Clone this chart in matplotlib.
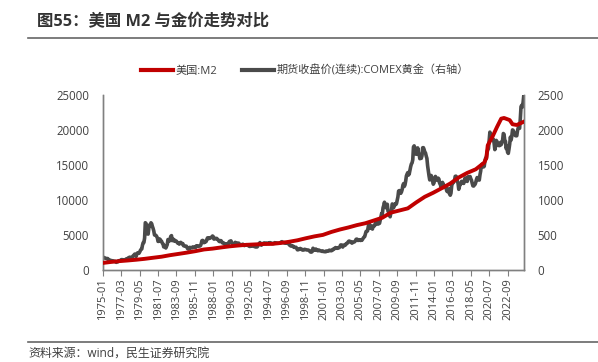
import matplotlib
matplotlib.use("Agg")
import matplotlib.pyplot as plt
from matplotlib.lines import Line2D

plt.rcParams['font.family'] = ['Open Sans', 'Noto Sans CJK SC', 'DejaVu Sans']

# US M2 (billion USD), sparse points by month
m2_dates = ["1975-01", "1975-12", "1976-12", "1977-12", "1978-12", "1979-12", "1980-12",
            "1981-12", "1982-12", "1983-12", "1984-12", "1985-12", "1986-12", "1987-12",
            "1988-12", "1989-12", "1990-12", "1991-12", "1992-12", "1993-12", "1994-12",
            "1995-12", "1996-12", "1997-12", "1998-12", "1999-12", "2000-12", "2001-12",
            "2002-12", "2003-12", "2004-12", "2005-12", "2006-12", "2007-12", "2008-12",
            "2009-12", "2010-12", "2011-12", "2012-12", "2013-12", "2014-12", "2015-12",
            "2016-12", "2017-12", "2018-12", "2019-12", "2020-03", "2020-05", "2020-12",
            "2021-06", "2021-12", "2022-04", "2022-12", "2023-04", "2023-10", "2024-08"]
m2_values = [1016, 1152, 1270, 1366, 1473, 1599, 1755,
             1906, 2124, 2306, 2492, 2699, 2937, 3057,
             3225, 3381, 3500, 3600, 3657, 3715, 3733,
             3860, 4031, 4246, 4538, 4804, 5016, 5437,
             5785, 6077, 6410, 6680, 7071, 7471, 8192,
             8496, 8802, 9660, 10453, 11035, 11684, 12346,
             13213, 13862, 14376, 15327, 16000, 17800, 19100,
             20400, 21600, 21700, 21400, 20800, 20700, 21170]

# COMEX gold (USD/oz), monthly from 1975-01
gold = [
    176, 180, 178, 170, 167, 164, 165, 163, 144, 143, 142, 139,
    132, 132, 133, 128, 126, 126, 118, 110, 115, 117, 131, 134,
    132, 136, 148, 149, 147, 141, 144, 145, 150, 159, 162, 161,
    173, 179, 184, 175, 176, 183, 188, 206, 212, 228, 206, 194,
    227, 245, 242, 239, 257, 279, 295, 301, 355, 392, 392, 456,
    675, 665, 553, 517, 513, 600, 644, 627, 674, 661, 623, 594,
    557, 500, 499, 495, 480, 460, 409, 410, 444, 437, 413, 410,
    384, 374, 330, 350, 334, 315, 339, 364, 435, 422, 414, 444,
    481, 491, 420, 432, 438, 413, 423, 416, 412, 394, 382, 388,
    370, 386, 395, 381, 377, 378, 347, 348, 341, 340, 341, 320,
    303, 299, 304, 324, 316, 317, 317, 330, 323, 325, 325, 322,
    345, 338, 345, 340, 342, 342, 348, 376, 418, 423, 396, 391,
    408, 401, 408, 438, 460, 450, 450, 461, 460, 465, 465, 486,
    477, 442, 444, 452, 451, 451, 437, 431, 413, 406, 420, 419,
    404, 388, 390, 384, 371, 367, 375, 365, 362, 367, 394, 409,
    410, 417, 394, 375, 369, 352, 362, 395, 389, 380, 381, 378,
    384, 364, 363, 358, 357, 367, 368, 356, 349, 358, 359, 361,
    354, 354, 345, 338, 337, 341, 353, 343, 345, 344, 335, 334,
    329, 329, 330, 342, 367, 372, 392, 379, 355, 364, 374, 383,
    387, 382, 384, 378, 381, 385, 385, 380, 391, 389, 384, 380,
    379, 377, 382, 391, 385, 387, 386, 383, 383, 383, 386, 387,
    400, 405, 396, 393, 392, 385, 383, 387, 383, 381, 378, 369,
    355, 346, 352, 344, 344, 341, 324, 324, 323, 325, 306, 289,
    289, 297, 296, 308, 299, 292, 293, 284, 289, 296, 294, 291,
    287, 287, 286, 282, 277, 261, 256, 257, 265, 311, 293, 283,
    284, 300, 286, 280, 275, 286, 282, 275, 273, 270, 266, 272,
    265, 262, 263, 261, 272, 270, 268, 273, 283, 283, 276, 275,
    282, 296, 294, 302, 314, 321, 313, 310, 319, 317, 319, 333,
    357, 359, 340, 328, 355, 356, 351, 360, 378, 379, 389, 407,
    414, 405, 406, 404, 384, 392, 398, 400, 405, 420, 439, 442,
    424, 423, 434, 428, 422, 430, 424, 438, 456, 469, 476, 510,
    549, 555, 557, 610, 676, 596, 633, 632, 598, 585, 627, 629,
    631, 665, 655, 680, 668, 656, 666, 666, 712, 754, 806, 803,
    889, 922, 968, 909, 889, 890, 939, 839, 829, 806, 760, 816,
    858, 943, 925, 890, 928, 946, 934, 949, 996, 1043, 1127, 1134,
    1118, 1095, 1114, 1148, 1205, 1233, 1193, 1215, 1271, 1343, 1370, 1391,
    1356, 1372, 1424, 1474, 1512, 1529, 1573, 1756, 1772, 1665, 1739, 1652,
    1656, 1743, 1675, 1649, 1589, 1596, 1594, 1630, 1745, 1747, 1721, 1684,
    1671, 1627, 1593, 1487, 1414, 1343, 1286, 1347, 1349, 1316, 1275, 1225,
    1244, 1300, 1336, 1299, 1287, 1279, 1311, 1296, 1238, 1222, 1176, 1200,
    1251, 1227, 1179, 1199, 1199, 1181, 1129, 1118, 1125, 1159, 1086, 1068,
    1097, 1200, 1246, 1242, 1260, 1276, 1337, 1340, 1326, 1267, 1238, 1152,
    1192, 1234, 1231, 1266, 1246, 1260, 1236, 1283, 1315, 1280, 1283, 1265,
    1331, 1331, 1325, 1335, 1303, 1282, 1238, 1202, 1198, 1215, 1221, 1250,
    1291, 1320, 1300, 1286, 1284, 1359, 1413, 1500, 1511, 1495, 1471, 1480,
    1560, 1597, 1592, 1683, 1716, 1732, 1846, 1968, 1921, 1900, 1866, 1858,
    1867, 1808, 1718, 1760, 1850, 1834, 1807, 1785, 1775, 1777, 1821, 1790,
    1817, 1856, 1948, 1937, 1849, 1837, 1733, 1765, 1681, 1665, 1726, 1798,
    1898, 1855, 1912, 2000, 1992, 1943, 1951, 1918, 1916, 1916, 1986, 2027,
    2034, 2023, 2159, 2331, 2351, 2326, 2399, 2500,
]

tick_labels = ["1975-01", "1977-03", "1979-05", "1981-07", "1983-09", "1985-11",
               "1988-01", "1990-03", "1992-05", "1994-07", "1996-09", "1998-11",
               "2001-01", "2003-03", "2005-05", "2007-07", "2009-09", "2011-11",
               "2014-01", "2016-03", "2018-05", "2020-07", "2022-09"]


def month_idx(s):
    y, m = s.split("-")
    return (int(y) - 1975) * 12 + int(m) - 1


RED = "#C00000"
GRAY = "#4A4A4A"
TXT = "#404040"
SPINE = "#808080"

fig = plt.figure(figsize=(5.98, 3.62), dpi=100)
ax = fig.add_axes([0.172, 0.254, 0.704, 0.484])
ax2 = ax.twinx()

ax.plot([month_idx(d) for d in m2_dates], m2_values, color=RED, lw=2.8, zorder=3)
ax2.plot(range(len(gold)), gold, color=GRAY, lw=2.6)
ax.set_zorder(ax2.get_zorder() + 1)
ax.patch.set_visible(False)

ax.set_xlim(0, len(gold) - 1)
ax.set_ylim(0, 25000)
ax2.set_ylim(0, 2500)
ax.set_yticks(range(0, 25001, 5000))
ax2.set_yticks(range(0, 2501, 500))
ax.set_xticks([month_idx(t) for t in tick_labels])
ax.set_xticklabels(tick_labels, rotation=90)

for a in (ax, ax2):
    a.spines['top'].set_visible(False)
    for s in ('left', 'right', 'bottom'):
        a.spines[s].set_color(SPINE)
        a.spines[s].set_linewidth(1.0)
    a.tick_params(axis='y', length=0, labelsize=8.3, labelcolor=TXT, pad=10)
ax.tick_params(axis='x', length=4, color=SPINE, labelsize=8, labelcolor=TXT, pad=2)

handles = [Line2D([], [], color=RED, lw=3), Line2D([], [], color=GRAY, lw=3)]
fig.legend(handles, ["美国:M2", "期货收盘价(连续):COMEX黄金（右轴）"],
           loc='center', bbox_to_anchor=(0.51, 0.804), ncol=2, frameon=False,
           fontsize=8, handlelength=2.9, handletextpad=0.25, columnspacing=2.2,
           labelcolor=TXT)

fig.text(0.062, 0.938, "图55：美国 M2 与金价走势对比", fontsize=11.8, fontweight='bold',
         color="#333333", va='center')
fig.add_artist(Line2D([0.047, 1.0], [0.895, 0.895], color="#666666", lw=1.2))
fig.add_artist(Line2D([0.047, 1.0], [0.055, 0.055], color="#666666", lw=1.2))
fig.text(0.047, 0.025, "资料来源：wind，民生证券研究院", fontsize=8.6, color=TXT, va='center')

fig.savefig("out.png", dpi=100)
